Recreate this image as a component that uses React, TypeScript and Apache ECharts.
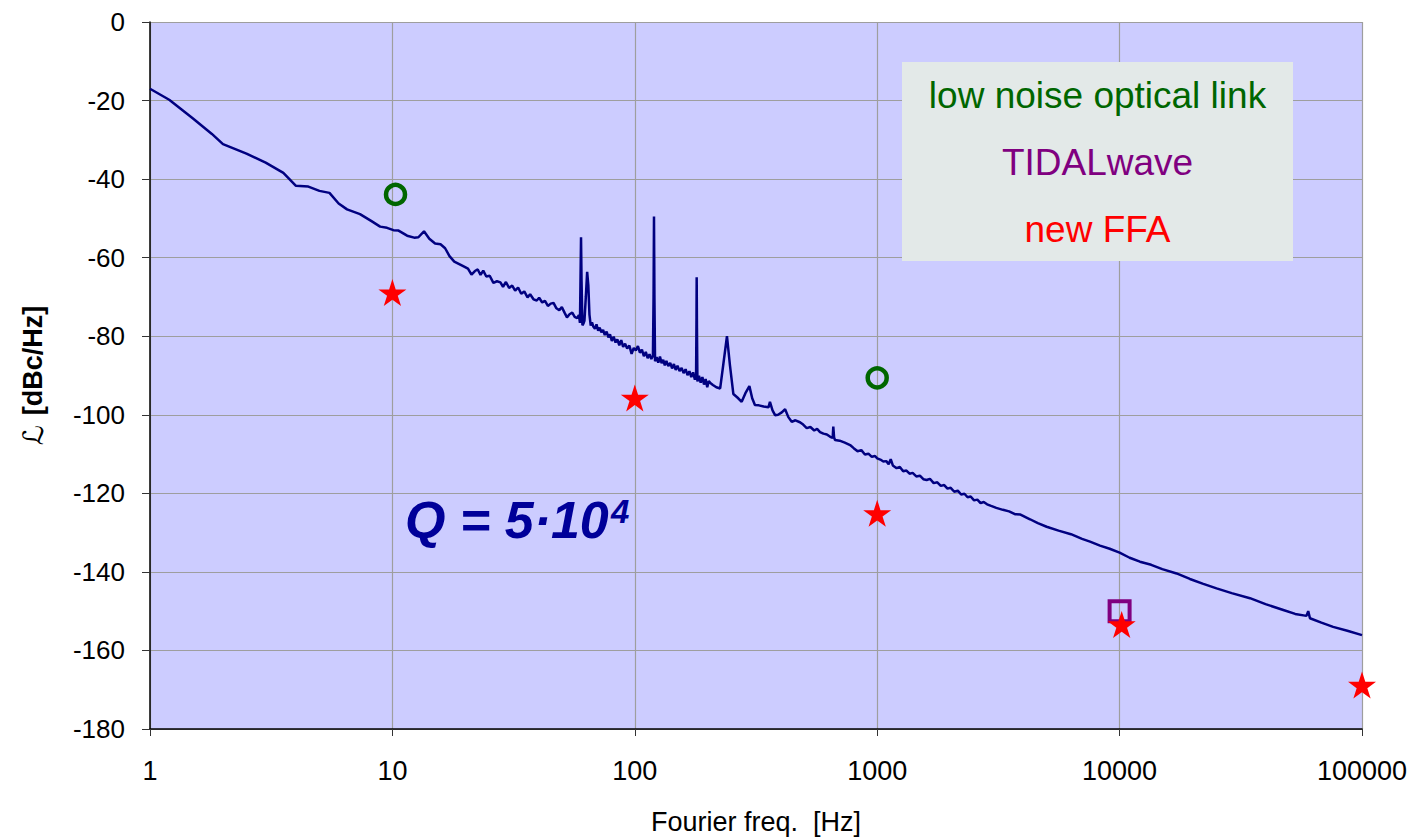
import React, { useEffect, useRef } from "react";
import * as echarts from "echarts";

// ---- data ----
const xTickLabels = ["1", "10", "100", "1000", "10000", "100000"];
const yMin = -180;
const yMax = 0;
const yStep = 20;

// phase noise curve [Fourier frequency Hz, dBc/Hz]
const noiseCurve: [number, number][] = [
  [1, -17.0], [1.2, -19.8], [1.5, -24.5], [1.8, -28.5], [2.0, -31.1], [2.5, -33.5],
  [3.0, -35.8], [3.55, -38.4], [4.0, -41.7], [4.5, -41.9], [5.0, -43.0], [5.5, -43.5],
  [6.0, -46.2], [6.5, -47.7], [7.35, -48.9], [8.2, -50.7], [8.9, -52.1], [9.5, -52.4],
  [10.1, -53.0], [10.6, -53.1], [11.5, -54.4], [12.3, -54.9], [12.8, -54.8], [13.5, -53.3],
  [14.2, -55.2], [15.0, -56.4], [15.8, -56.6], [16.5, -57.6], [17.2, -59.6], [18.0, -61.0],
  [19.5, -62.1], [20.5, -62.8], [21.2, -64.3], [21.9, -63.4], [22.5, -63.0], [23.1, -64.4],
  [23.7, -63.3], [24.4, -64.8], [25.2, -64.6], [26.1, -66.4], [27.0, -66.0], [27.9, -66.3],
  [28.6, -67.4], [29.4, -66.2], [30.3, -67.7], [31.2, -67.1], [32.1, -68.4], [33.0, -67.6],
  [34.0, -69.2], [35.0, -68.6], [36.1, -70.1], [37.0, -69.3], [38.2, -70.6], [39.4, -70.9],
  [40.3, -70.2], [41.5, -71.4], [42.6, -71.0], [43.8, -72.3], [45.0, -71.7], [46.2, -71.5],
  [47.5, -72.9], [48.8, -73.4], [50.0, -72.6], [51.3, -74.0], [52.5, -75.2], [53.8, -74.4],
  [55.2, -74.0], [56.5, -75.1], [57.8, -75.4], [58.8, -74.6], [59.4, -76.6], [59.8, -62.0],
  [60.0, -54.8], [60.3, -66.0], [60.8, -77.2], [61.4, -76.8], [62.0, -76.0], [62.8, -70.0],
  [63.6, -63.6], [64.3, -67.0], [65.0, -74.5], [65.8, -77.3], [66.6, -76.5], [67.5, -77.6],
  [68.5, -78.1], [69.5, -77.0], [70.6, -78.6], [71.6, -77.8], [72.8, -79.0], [74.0, -78.4],
  [75.2, -79.7], [76.5, -78.8], [77.8, -80.3], [79.0, -79.5], [80.4, -81.2], [81.8, -80.1],
  [83.3, -81.6], [84.7, -80.8], [86.3, -82.3], [87.9, -81.0], [89.5, -82.7], [91.2, -81.9],
  [93.0, -83.1], [95.0, -82.4], [97.0, -84.5], [99.0, -83.0], [101, -83.6], [103, -82.5],
  [105, -84.2], [107, -83.4], [109, -85.1], [111, -84.0], [113, -85.6], [115, -84.6],
  [117, -85.8], [118.8, -85.0], [119.5, -70.0], [120.0, -49.5], [120.5, -70.0], [121.2, -86.4],
  [123, -85.3], [125, -86.7], [127, -85.2], [129, -86.9], [131, -86.0], [133, -87.4],
  [135, -86.3], [137.5, -87.6], [140, -86.8], [142.5, -88.2], [145, -87.1], [147.5, -88.6],
  [150, -87.5], [153, -88.9], [156, -88.1], [159, -89.4], [162, -88.4], [165, -89.9],
  [168, -88.9], [171, -90.4], [174, -89.2], [177, -91.1], [179, -89.8], [179.7, -75.0],
  [180, -65.0], [180.5, -78.0], [181.3, -91.5], [184, -90.1], [187, -91.8], [190, -90.4],
  [193, -92.3], [196, -90.9], [199, -93.0], [202, -91.4], [205, -91.9], [210, -92.4],
  [217, -93.0], [225, -93.3], [232, -87.0], [240, -80.0], [247, -87.5], [255, -94.7],
  [265, -95.6], [276, -96.7], [286, -94.5], [297, -92.7], [305, -95.8], [313, -97.5],
  [325, -97.6], [340, -97.9], [356, -98.1], [361, -96.7], [370, -98.9], [379, -100.1],
  [390, -100.0], [404, -99.4], [417, -98.6], [430, -100.6], [444, -101.8], [460, -101.4],
  [480, -101.9], [495, -102.5], [512, -103.4], [530, -103.1], [550, -104.0], [565, -103.6],
  [581, -104.4], [600, -104.8], [620, -105.0], [640, -105.6], [655, -105.9], [659, -103.0],
  [664, -105.8], [670, -106.4], [700, -106.6], [735, -107.1], [773, -107.7], [800, -108.5],
  [830, -109.3], [860, -109.0], [890, -110.1], [920, -109.9], [950, -110.7], [980, -110.5],
  [1000, -111.1], [1030, -111.4], [1060, -111.9], [1090, -111.8], [1115, -112.6], [1137, -111.3],
  [1160, -112.9], [1203, -113.6], [1240, -113.3], [1280, -114.4], [1320, -114.2], [1360, -115.0],
  [1400, -114.8], [1450, -115.7], [1500, -115.5], [1550, -116.4], [1600, -116.6], [1650, -116.3],
  [1710, -117.4], [1770, -117.2], [1830, -118.1], [1890, -117.9], [1950, -118.8], [2010, -118.6],
  [2080, -119.6], [2150, -119.3], [2220, -120.3], [2290, -120.1], [2360, -121.0], [2430, -120.8],
  [2510, -121.8], [2590, -121.6], [2670, -122.5], [2750, -122.2], [2840, -122.8], [2950, -123.2],
  [3100, -123.7], [3300, -124.2], [3500, -124.6], [3700, -125.3], [3900, -125.4], [4270, -126.6],
  [4600, -127.6], [5000, -128.5], [5600, -129.5], [6300, -130.4], [7000, -131.6], [7550, -132.3],
  [8300, -133.3], [9100, -134.1], [10000, -135.1], [11000, -136.4], [12130, -137.4], [13500, -138.2],
  [15000, -139.3], [17180, -140.4], [19500, -141.8], [22000, -143.0], [25120, -144.2], [29000, -145.4],
  [34500, -146.7], [40000, -148.2], [47350, -149.7], [53000, -150.7], [59000, -151.2], [60000, -150.0],
  [61000, -151.8], [68000, -152.9], [76000, -154.0], [87000, -155.0], [100000, -156.1],
];

const opticalLink: [number, number][] = [
  [10.3, -43.9],
  [1000, -90.6],
];
const tidalWave: [number, number][] = [[10000, -150.0]];
const newFFA: [number, number][] = [
  [10, -68.9],
  [100, -95.7],
  [1000, -125.1],
  [10200, -153.4],
  [100000, -168.8],
];

const legendLines = ["low noise optical link", "TIDALwave", "new FFA"];
const legendColors = ["#006600", "#800080", "#FF0000"];

const FONT = "'Liberation Sans', Arial, Helvetica, sans-serif";
const STAR =
  "path://M0,-100 L22.45,-30.9 L95.1,-30.9 L36.3,11.8 L58.8,80.9 L0,38.2 L-58.8,80.9 L-36.3,11.8 L-95.1,-30.9 L-22.45,-30.9 Z";

export default function App() {
  const ref = useRef<HTMLDivElement>(null);

  useEffect(() => {
    if (!ref.current) return;
    const chart = echarts.init(ref.current, null, { renderer: "svg" });
    const option: any = {
      animation: false,
      backgroundColor: "#ffffff",
      grid: {
        left: 150,
        top: 22,
        width: 1212,
        height: 707,
        show: true,
        backgroundColor: "#CCCCFF",
        borderWidth: 0,
      },
      xAxis: {
        type: "log",
        logBase: 10,
        min: 1,
        max: 100000,
        name: "Fourier freq.  [Hz]",
        nameLocation: "middle",
        nameGap: 79,
        nameTextStyle: { fontFamily: FONT, fontSize: 27, color: "#000" },
        axisLine: { show: true, onZero: false, lineStyle: { color: "#000", width: 1.5 } },
        axisTick: { show: true, inside: false, length: 7, lineStyle: { color: "#333" } },
        minorTick: { show: false },
        axisLabel: {
          fontFamily: FONT,
          fontSize: 27,
          color: "#000",
          margin: 28,
          formatter: (v: number) => xTickLabels[Math.round(Math.log10(v))] ?? "",
        },
        splitLine: { show: true, lineStyle: { color: "#9E9E9E", width: 1.2 } },
      },
      yAxis: {
        type: "value",
        min: yMin,
        max: yMax,
        interval: yStep,
        name: "{l|ℒ}{b|[dBc/Hz]}",
        nameLocation: "middle",
        nameRotate: 90,
        nameGap: 103,
        nameTextStyle: {
          rich: {
            l: {
              fontFamily: "'DejaVu Sans', sans-serif",
              fontStyle: "normal",
              fontSize: 28,
              color: "#000",
              padding: [0, 10, 0, 0],
            },
            b: { fontFamily: FONT, fontWeight: "bold", fontSize: 27, color: "#000" },
          },
        },
        axisLine: { show: true, onZero: false, lineStyle: { color: "#000", width: 1.5 } },
        axisTick: { show: true, inside: false, length: 8, lineStyle: { color: "#333" } },
        axisLabel: { fontFamily: FONT, fontSize: 26, color: "#000", margin: 25 },
        splitLine: { show: true, lineStyle: { color: "#9E9E9E", width: 1.2 } },
      },
      series: [
        {
          type: "line",
          data: noiseCurve,
          showSymbol: false,
          symbol: "none",
          lineStyle: { color: "#000080", width: 2.5 },
          z: 2,
        },
        {
          type: "scatter",
          data: opticalLink,
          symbol: "circle",
          symbolSize: 19,
          itemStyle: { color: "rgba(0,0,0,0)", borderColor: "#006600", borderWidth: 4.5, opacity: 1 },
          z: 3,
        },
        {
          type: "scatter",
          data: tidalWave,
          symbol: "rect",
          symbolSize: 20,
          itemStyle: { color: "rgba(0,0,0,0)", borderColor: "#800080", borderWidth: 4, opacity: 1 },
          z: 4,
        },
        {
          type: "scatter",
          data: newFFA,
          symbol: STAR,
          symbolSize: [28, 27],
          itemStyle: { color: "#FF0000", opacity: 1 },
          z: 5,
        },
      ],
      graphic: [
        {
          type: "rect",
          shape: { x: 902, y: 62, width: 391, height: 199 },
          style: { fill: "#E3E9E8" },
          z: 10,
        },
        ...legendLines.map((t, i) => ({
          type: "text",
          x: 1097.5,
          y: [95.5, 162, 229.5][i],
          z: 11,
          style: {
            text: t,
            fill: legendColors[i],
            font: `37px ${FONT}`,
            textAlign: "center",
            textVerticalAlign: "middle",
          },
        })),
        {
          type: "text",
          x: 405,
          y: 520,
          z: 11,
          style: {
            text: "Q = 5·10",
            fill: "#000099",
            font: `italic bold 52px ${FONT}`,
            textAlign: "left",
            textVerticalAlign: "middle",
          },
        },
        {
          type: "text",
          x: 611,
          y: 511,
          z: 11,
          style: {
            text: "4",
            fill: "#000099",
            font: `italic bold 33px ${FONT}`,
            textAlign: "left",
            textVerticalAlign: "middle",
          },
        },
      ],
    };
    chart.setOption(option);
    return () => chart.dispose();
  }, []);

  return (
    <div
      ref={ref}
      style={{ position: "absolute", left: 0, top: 0, width: 1418, height: 840, background: "#fff" }}
    />
  );
}
